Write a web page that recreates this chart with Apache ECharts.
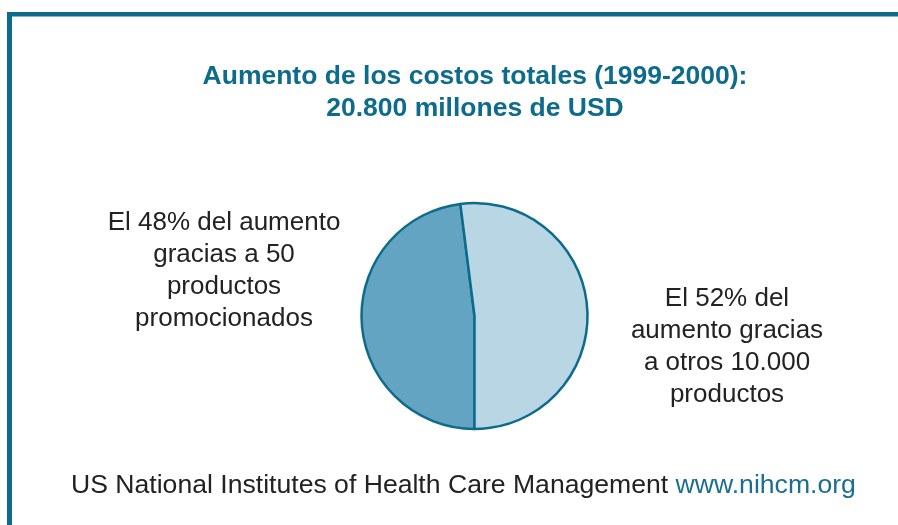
<!DOCTYPE html>
<html>
<head>
<meta charset="utf-8">
<script src="https://cdn.jsdelivr.net/npm/echarts@6/dist/echarts.min.js"></script>
<style>
  html, body { margin: 0; padding: 0; background: #fff; }
  #main { width: 898px; height: 525px; }
</style>
</head>
<body>
<div id="main"></div>
<script>
var myChart = echarts.init(document.getElementById('main'));

// slice shares (%) and their captions
var shares = [48, 52];
var sliceNames = [
    'El 48% del aumento\ngracias a 50\nproductos\npromocionados',
    'El 52% del\naumento gracias\na otros 10.000\nproductos'
];
var sliceColors = ['#62a4c1', '#b9d6e4'];
var titleText = 'Aumento de los costos totales (1999-2000):\n20.800 millones de USD';
var sourceText = 'US National Institutes of Health Care Management';
var sourceLink = 'www.nihcm.org';

var teal = '#0d6b8b';
var font = '"Liberation Sans", Arial, Helvetica, sans-serif';

// where each caption sits (centre of the text block)
var labelPos = [[224, 271], [727, 347]];

var data = shares.map(function (v, i) {
    return {
        value: v,
        name: sliceNames[i],
        itemStyle: { color: sliceColors[i] }
    };
});

option = {
    backgroundColor: '#fff',
    animation: false,
    title: {
        text: titleText,
        left: 470,
        top: 56,
        textAlign: 'center',
        textStyle: {
            color: teal,
            fontFamily: font,
            fontSize: 26.5,
            fontWeight: 'bold',
            lineHeight: 32
        }
    },
    graphic: [
        {
            type: 'rect',
            shape: { x: 7, y: 12, width: 891, height: 4.5 },
            style: { fill: teal }
        },
        {
            type: 'rect',
            shape: { x: 7, y: 12, width: 5, height: 513 },
            style: { fill: teal }
        },
        {
            type: 'text',
            x: 71,
            y: 486,
            style: {
                text: '{a|' + sourceText + '} {b|' + sourceLink + '}',
                font: '26.6px ' + font,
                verticalAlign: 'middle',
                rich: {
                    a: { fill: '#222', fontSize: 26.6, fontFamily: font },
                    b: { fill: '#1a6f8f', fontSize: 26.6, fontFamily: font }
                }
            }
        }
    ],
    series: [
        {
            type: 'pie',
            center: [474.5, 316],
            radius: [0, 113],
            startAngle: -90,
            clockwise: true,
            data: data,
            itemStyle: {
                borderColor: teal,
                borderWidth: 2.5
            },
            label: {
                show: true,
                formatter: '{b}',
                color: '#222',
                fontFamily: font,
                fontSize: 26,
                lineHeight: 32,
                align: 'center'
            },
            labelLine: { show: false },
            labelLayout: function (params) {
                var p = labelPos[params.dataIndex];
                return {
                    x: p[0],
                    y: p[1],
                    align: 'center',
                    verticalAlign: 'middle'
                };
            },
            emphasis: { disabled: true }
        }
    ]
};

myChart.setOption(option);
</script>
</body>
</html>
